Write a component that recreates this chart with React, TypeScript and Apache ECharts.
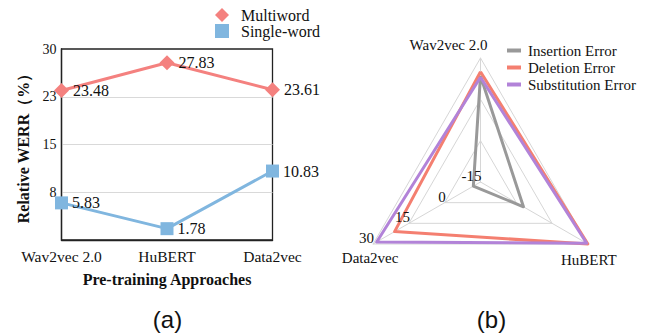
import React, { useEffect, useRef } from "react";
import * as echarts from "echarts";

// Panel (a): relative WERR by pre-training approach
const categories = ["Wav2vec 2.0", "HuBERT", "Data2vec"];
const multiword = [23.48, 27.83, 23.61];
const singleWord = [5.83, 1.78, 10.83];
const yMin = 0;
const yMax = 30;
const yInterval = 7.5;

// Panel (b): error-type radar
const radarIndicators = ["Wav2vec 2.0", "Data2vec", "HuBERT"];
const insertionError = [23.5, -12, 3];
const deletionError = [25, 21, 30];
const substitutionError = [23, 28.5, 29.5];
const radarMin = -15;
const radarMax = 30;
const radarStep = 15;

const SERIF = "'Liberation Serif', 'Times New Roman', serif";
const SANS = "'Liberation Sans', Arial, sans-serif";

const RADAR_CX = 480.5;
const RADAR_CY = 182;
const RADAR_R = 124;

const COLORS = {
  multi: "#F4817F",
  single: "#80B6DF",
  insertion: "#999999",
  deletion: "#F47F70",
  substitution: "#B283D8",
};

export default function App() {
  const ref = useRef<HTMLDivElement>(null);

  useEffect(() => {
    if (!ref.current) return;
    const chart = echarts.init(ref.current, undefined, { renderer: "svg" });

    const cos30 = Math.cos(Math.PI / 6);
    const vTop = [RADAR_CX, RADAR_CY - RADAR_R];
    const vLeft = [RADAR_CX - RADAR_R * cos30, RADAR_CY + RADAR_R / 2];
    const vRight = [RADAR_CX + RADAR_R * cos30, RADAR_CY + RADAR_R / 2];

    const nameStyle = { fontFamily: SERIF, fontSize: 15, fill: "#111" };

    // Ring values printed along the Data2vec spoke (210 degrees)
    const ringLabels: any[] = [];
    for (let v = radarMin; v <= radarMax; v += radarStep) {
      const r = ((v - radarMin) / (radarMax - radarMin)) * RADAR_R;
      ringLabels.push({
        type: "text",
        x: RADAR_CX - r * cos30 + 1,
        y: RADAR_CY + r / 2 - 6,
        style: {
          ...nameStyle,
          text: String(v),
          align: "right",
          verticalAlign: "middle",
        },
        z: 10,
      });
    }

    chart.setOption({
      animation: false,
      backgroundColor: "#fff",
      textStyle: { fontFamily: SERIF },
      legend: [
        {
          orient: "vertical",
          left: 210,
          top: 2,
          itemWidth: 14,
          itemHeight: 14,
          itemGap: 0,
          data: [
            { name: "Multiword", icon: "diamond" },
            { name: "Single-word", icon: "rect" },
          ],
          textStyle: {
            fontFamily: SERIF,
            fontSize: 16,
            color: "#111",
            padding: [0, 0, 0, 7],
          },
        },
        {
          orient: "vertical",
          left: 502,
          top: 38,
          itemWidth: 14,
          itemHeight: 4,
          itemGap: 2,
          icon: "rect",
          data: ["Insertion Error", "Deletion Error", "Substitution Error"],
          textStyle: {
            fontFamily: SERIF,
            fontSize: 15,
            color: "#111",
            padding: [0, 0, 0, 2],
          },
        },
      ],
      grid: {
        left: 61.5,
        top: 49,
        width: 211,
        height: 191,
        show: true,
        borderColor: "#222",
        borderWidth: 1.3,
        backgroundColor: "transparent",
      },
      xAxis: {
        type: "category",
        data: categories,
        boundaryGap: false,
        axisLine: { lineStyle: { color: "#222", width: 1.3 } },
        axisTick: { show: false },
        axisLabel: {
          fontFamily: SERIF,
          fontSize: 15.5,
          color: "#111",
          margin: 8,
        },
        name: "Pre-training Approaches",
        nameLocation: "middle",
        nameGap: 31,
        nameTextStyle: {
          fontFamily: SERIF,
          fontSize: 16,
          fontWeight: "bold",
          color: "#111",
        },
      },
      yAxis: {
        type: "value",
        min: yMin,
        max: yMax,
        interval: yInterval,
        axisLine: { show: true, lineStyle: { color: "#222", width: 1.3 } },
        axisTick: { show: false },
        axisLabel: {
          fontFamily: SERIF,
          fontSize: 14,
          color: "#111",
          margin: 5,
          showMinLabel: false,
          formatter: (v: number) => String(Math.round(v)),
        },
        splitLine: {
          show: true,
          showMinLine: false,
          showMaxLine: false,
          lineStyle: { color: "#d9d9d9", width: 1 },
        },
        name: "Relative WERR（%）",
        nameLocation: "middle",
        nameGap: 30,
        nameTextStyle: {
          fontFamily: SERIF,
          fontSize: 16,
          fontWeight: "bold",
          color: "#111",
        },
      },
      radar: {
        center: [RADAR_CX, RADAR_CY],
        radius: RADAR_R,
        startAngle: 90,
        shape: "polygon",
        splitNumber: 3,
        axisName: { show: false },
        axisLine: { lineStyle: { color: "#d6d6d6", width: 1 } },
        splitLine: { lineStyle: { color: "#d6d6d6", width: 1 } },
        splitArea: { show: false },
        axisTick: { show: false },
        axisLabel: { show: false },
        indicator: radarIndicators.map((name) => ({
          name,
          min: radarMin,
          max: radarMax,
        })),
      },
      series: [
        {
          name: "Multiword",
          type: "line",
          data: multiword,
          color: COLORS.multi,
          symbol: "diamond",
          symbolSize: 15,
          lineStyle: { width: 3, color: COLORS.multi },
          itemStyle: { color: COLORS.multi },
          label: {
            show: true,
            position: "right",
            distance: 4,
            fontFamily: SERIF,
            fontSize: 16,
            color: "#111",
          },
          z: 3,
        },
        {
          name: "Single-word",
          type: "line",
          data: singleWord,
          color: COLORS.single,
          symbol: "rect",
          symbolSize: 13,
          lineStyle: { width: 3, color: COLORS.single },
          itemStyle: { color: COLORS.single },
          label: {
            show: true,
            position: "right",
            distance: 4,
            fontFamily: SERIF,
            fontSize: 16,
            color: "#111",
          },
          z: 3,
        },
        {
          type: "radar",
          symbol: "none",
          data: [
            {
              name: "Insertion Error",
              value: insertionError,
              itemStyle: { color: COLORS.insertion },
              lineStyle: { color: COLORS.insertion, width: 3 },
            },
            {
              name: "Deletion Error",
              value: deletionError,
              itemStyle: { color: COLORS.deletion },
              lineStyle: { color: COLORS.deletion, width: 3 },
            },
            {
              name: "Substitution Error",
              value: substitutionError,
              itemStyle: { color: COLORS.substitution },
              lineStyle: { color: COLORS.substitution, width: 3 },
            },
          ],
        },
      ],
      graphic: [
        ...ringLabels,
        {
          type: "text",
          x: vTop[0] - 32,
          y: vTop[1] - 13,
          style: { ...nameStyle, text: radarIndicators[0], align: "center", verticalAlign: "middle" },
        },
        {
          type: "text",
          x: vLeft[0] - 3,
          y: vLeft[1] + 14,
          style: { ...nameStyle, text: radarIndicators[1], align: "center", verticalAlign: "middle" },
        },
        {
          type: "text",
          x: vRight[0] + 1,
          y: vRight[1] + 16,
          style: { ...nameStyle, text: radarIndicators[2], align: "center", verticalAlign: "middle" },
        },
        {
          type: "text",
          x: 167.5,
          y: 319.5,
          style: { text: "(a)", fontFamily: SANS, fontSize: 24, fill: "#111", align: "center", verticalAlign: "middle" },
        },
        {
          type: "text",
          x: 491.5,
          y: 319.5,
          style: { text: "(b)", fontFamily: SANS, fontSize: 24, fill: "#111", align: "center", verticalAlign: "middle" },
        },
      ],
    });

    return () => chart.dispose();
  }, []);

  return (
    <div
      ref={ref}
      style={{ position: "fixed", left: 0, top: 0, width: 657, height: 335 }}
    />
  );
}
